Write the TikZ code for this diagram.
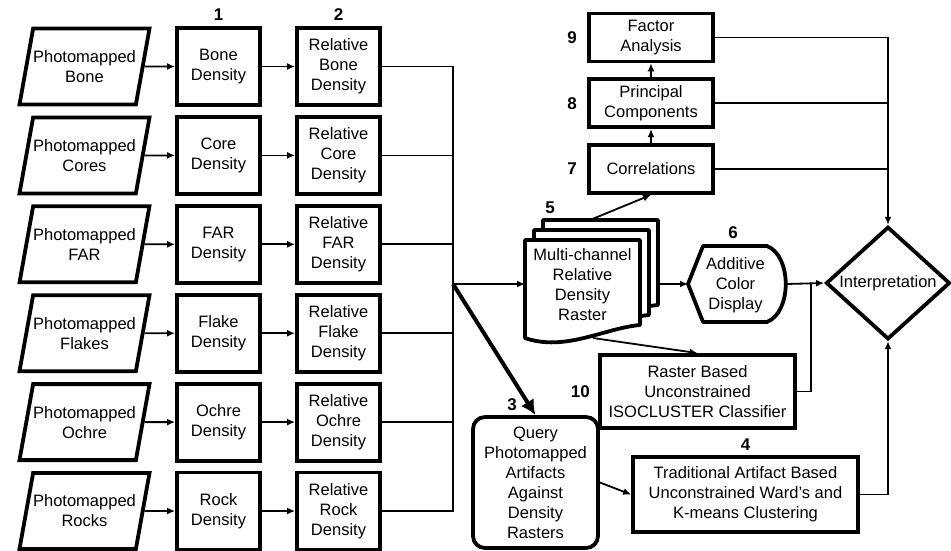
\documentclass[tikz,border=0pt]{standalone}
\usepackage{fontspec}
\setmainfont{Liberation Sans}
\usetikzlibrary{shapes.geometric, arrows.meta, positioning}
\tikzstyle{inputdata} = [trapezium, trapezium left angle=67, trapezium right angle=113, trapezium stretches=true, minimum width=118pt, minimum height=76pt, inner sep=0pt, align=center, draw=black, line width=3.8pt]
\tikzstyle{process} = [rectangle, minimum width=83pt, minimum height=77pt, inner sep=1pt, align=center, draw=black, line width=3.8pt]
\tikzstyle{stats} = [process, minimum width=124pt, minimum height=48pt]
\tikzstyle{query} = [process, rounded corners=12pt, minimum width=125pt, minimum height=131pt]
\tikzstyle{decision} = [diamond, minimum width=124pt, minimum height=110pt, inner sep=0pt, draw=black, line width=3.8pt]
\tikzstyle{docpage} = [fill=white, draw=black, line width=3.8pt, line join=round]
\tikzstyle{num} = [font=\bfseries\fontsize{17}{20}\selectfont, inner sep=0pt]
\tikzstyle{link} = [line width=1.8pt]
\tikzstyle{arrow} = [line width=1.8pt, -{Latex[length=8pt,width=7pt]}]
\tikzstyle{bigarrow} = [line width=4pt, -{Latex[length=15pt,width=15pt]}]

\begin{document}
\begin{tikzpicture}[x=1pt, y=-1pt, every node/.style={font=\fontsize{16.5}{20}\selectfont}]
\useasboundingbox (0,0) rectangle (951,550);

% inputs, densities, relative densities
\node (pbone) [inputdata] at (84.5,66.5) {Photomapped\\Bone};
\node (dbone) [process] at (218.5,66.5) {Bone\\Density};
\node (rbone) [process] at (338.5,66.5) {Relative\\Bone\\Density};

\node (pcore) [inputdata] at (84.5,155.4) {Photomapped\\Cores};
\node (dcore) [process] at (218.5,155.4) {Core\\Density};
\node (rcore) [process] at (338.5,155.4) {Relative\\Core\\Density};

\node (pfar) [inputdata] at (84.5,244.3) {Photomapped\\FAR};
\node (dfar) [process] at (218.5,244.3) {FAR\\Density};
\node (rfar) [process] at (338.5,244.3) {Relative\\FAR\\Density};

\node (pflake) [inputdata] at (84.5,333.2) {Photomapped\\Flakes};
\node (dflake) [process] at (218.5,333.2) {Flake\\Density};
\node (rflake) [process] at (338.5,333.2) {Relative\\Flake\\Density};

\node (pochre) [inputdata] at (84.5,422.1) {Photomapped\\Ochre};
\node (dochre) [process] at (218.5,422.1) {Ochre\\Density};
\node (rochre) [process] at (338.5,422.1) {Relative\\Ochre\\Density};

\node (prock) [inputdata] at (84.5,511) {Photomapped\\Rocks};
\node (drock) [process] at (218.5,511) {Rock\\Density};
\node (rrock) [process] at (338.5,511) {Relative\\Rock\\Density};

\node [num, above=5pt of dbone] {1};
\node [num, above=5pt of rbone] {2};

\draw [arrow] (pbone) -- (dbone);
\draw [arrow] (dbone) -- (rbone);
\draw [arrow] (pcore) -- (dcore);
\draw [arrow] (dcore) -- (rcore);
\draw [arrow] (pfar) -- (dfar);
\draw [arrow] (dfar) -- (rfar);
\draw [arrow] (pflake) -- (dflake);
\draw [arrow] (dflake) -- (rflake);
\draw [arrow] (pochre) -- (dochre);
\draw [arrow] (dochre) -- (rochre);
\draw [arrow] (prock) -- (drock);
\draw [arrow] (drock) -- (rrock);

\coordinate (junc) at (453,284);
\draw [link] (rbone.east) -| (junc);
\draw [link] (rcore.east) -| (junc);
\draw [link] (rfar.east) -| (junc);
\draw [link] (rflake.east) -| (junc);
\draw [link] (rochre.east) -| (junc);
\draw [link] (rrock.east) -| (junc);

% multi-channel raster stack
\draw [docpage] (543,220) -- (658,220) -- (658,305) .. controls (623,308) and (583,332) .. (543,318) -- cycle;
\draw [docpage] (534,230) -- (649,230) -- (649,315) .. controls (614,318) and (574,342) .. (534,328) -- cycle;
\draw [docpage] (525,240) -- (640,240) -- (640,325) .. controls (605,328) and (565,352) .. (525,338) -- cycle;
\node (mcr) at (582.5,285) [align=center] {Multi-channel\\Relative\\Density\\Raster};
\node [num] at (550,208) {5};
\coordinate (mcrin) at (525,284);
\coordinate (mcrout) at (658,284);
\coordinate (mcrtop) at (590,220);
\coordinate (mcrbot) at (593,338);

% statistics
\node (corr) [stats] at (651,169) {Correlations};
\node (princ) [stats, above=14pt of corr] {Principal\\Components};
\node (factor) [stats, above=14pt of princ] {Factor\\Analysis};
\node [num, left=10pt of corr] {7};
\node [num, left=10pt of princ] {8};
\node [num, left=10pt of factor] {9};

% display
\node (disp) at (735.5,285) [align=center] {Additive\\Color\\Display};
\draw [line width=3.8pt, line join=round] (688,284) -- (703,246) -- (767,246) .. controls (792,256) and (792,312) .. (767,322) -- (703,322) -- cycle;
\node [num] at (733,233) {6};

\node (interp) [decision] at (888,283) {Interpretation};

\node (raster) [process, minimum width=195pt, minimum height=73pt] at (697.5,391.5) {Raster Based\\Unconstrained\\ISOCLUSTER Classifier};
\node [num, left=8pt of raster] {10};

\node (query) [query] at (535.5,482.5) {Query\\Photomapped\\Artifacts\\Against\\Density\\Rasters};
\node [num] at (512,405) {3};

\node (trad) [process, minimum width=225pt, minimum height=75pt] at (745.5,494.5) {Traditional Artifact Based\\Unconstrained Ward's and\\K-means Clustering};
\node [num, above=4pt of trad] {4};

% connectors
\draw [arrow] (junc) -- (mcrin);
\draw [bigarrow] (junc) -- (query.north);
\draw [arrow] (mcrtop) -- (corr.south);
\draw [arrow] (corr) -- (princ);
\draw [arrow] (princ) -- (factor);
\draw [arrow] (mcrout) -- (688,284);
\draw [arrow] (mcrbot) -- (raster.north);
\draw [arrow] (query.east) -- (trad.west);

\coordinate (merge) at (811,284);
\draw [arrow] (786,284) -- (interp.west);
\draw [link] (raster.east) -| (merge);
\draw [arrow] (factor.east) -| (interp.north);
\draw [link] (princ.east) -- (princ.east -| interp.north);
\draw [link] (corr.east) -- (corr.east -| interp.north);
\draw [arrow] (trad.east) -| (interp.south);
\end{tikzpicture}
\end{document}
